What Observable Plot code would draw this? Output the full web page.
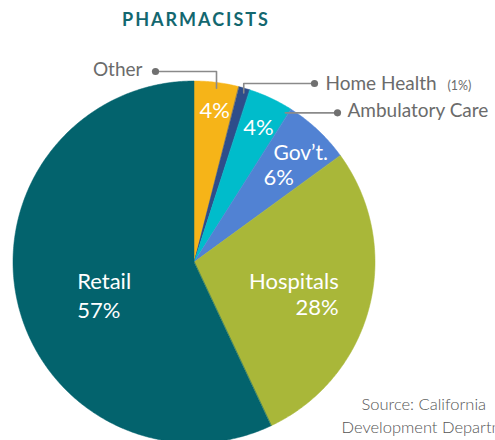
<!DOCTYPE html>
<html><head><meta charset="utf-8">
<script src="https://cdn.jsdelivr.net/npm/d3@7"></script>
<script src="https://cdn.jsdelivr.net/npm/@observablehq/plot@0.6"></script>
<style>
body{margin:0;background:#fff;width:495px;height:440px;overflow:hidden;}
#title{height:36px;box-sizing:border-box;padding:10px 0 0 122px;font:bold 18px/18px Lato,sans-serif;letter-spacing:2px;color:#13676f;}
#chart svg{display:block;}
</style></head><body>
<div id="title">PHARMACISTS</div>
<div id="chart"></div>
<script>
// ---- data ----
const categories = ["Other", "Home Health", "Ambulatory Care", "Gov\u2019t.", "Hospitals", "Retail"];
const shares = [4, 1, 4, 6, 28, 57];
const pctLabels = ["4%", "(1%)", "4%", "6%", "28%", "57%"];
const sourceLines = ["Source: California", "Development Department"];

// ---- styles / layout ----
const colors = ["#f6b418", "#2e4d8a", "#00bccb", "#5182d3", "#a9b739", "#03636d"];
const W = 495, H = 404, CX = 194, CY = 226, R = 181;
const X = px => (px - CX) / R;
const Y = py => (CY - (py - 36)) / R; // py in page coordinates

const rows = categories.map((c, i) => ({cat: c, share: shares[i], pct: pctLabels[i]}));
const arcs = d3.pie().sort(null).value(d => d.share)(rows);
const mid = a => (a.startAngle + a.endAngle) / 2;
const polar = (ang, r) => ({x: r * Math.sin(ang), y: r * Math.cos(ang)});

// slice outlines sampled along each arc
const slicePts = [];
for (const a of arcs) {
  const n = Math.max(4, Math.ceil((a.endAngle - a.startAngle) / 0.01));
  for (let k = 0; k <= n; k++) {
    const t = a.startAngle + (a.endAngle - a.startAngle) * k / n;
    slicePts.push({cat: a.data.cat, x1: Math.sin(t), y1: Math.cos(t), x2: 0, y2: 0});
  }
}
const arcOf = c => arcs.find(a => a.data.cat === c);

// inner labels: centroid at radius factor + pixel nudges
const inner = [];
function innerLabel(cat, r, text, anchor, dx, dy, size) {
  const p = polar(mid(arcOf(cat)), r);
  inner.push(Plot.text([p], {x: "x", y: "y", text: () => text, fill: "white", fontSize: size,
    textAnchor: anchor, dx, dy, fontFamily: "Lato"}));
}
innerLabel("Other", 0.85, rows[0].pct, "middle", 1, 1, 22);
innerLabel("Ambulatory Care", 0.85, rows[2].pct, "middle", -1.5, 5, 22);
innerLabel("Gov\u2019t.", 0.75, rows[3].cat, "start", -14, -10, 21);
innerLabel("Gov\u2019t.", 0.75, rows[3].pct, "start", -24, 14, 22);
innerLabel("Hospitals", 0.6, rows[4].cat, "end", 39, -8, 22);
innerLabel("Hospitals", 0.6, rows[4].pct, "end", 39, 18, 22);
innerLabel("Retail", 0.5, rows[5].cat, "start", -29, 0, 22);
innerLabel("Retail", 0.5, rows[5].pct, "start", -29, 29, 22);

// leader lines for outer labels
const leaders = [];
const dots = [];
function leader(cat, angle, r, labelY, dotX) {
  const p = polar(angle, r);
  const ly = labelY == null ? p.y : Y(labelY);
  leaders.push({cat, x: p.x, y: p.y}, {cat, x: p.x, y: ly}, {cat, x: X(dotX), y: ly});
  dots.push({cat, x: X(dotX), y: ly});
}
const aO = arcOf("Other"), aH = arcOf("Home Health"), aA = arcOf("Ambulatory Care");
leader("Other", mid(aO), 0.97, 71, 155);
leader("Home Health", mid(aH), 0.975, 83, 314);
leader("Ambulatory Care", aA.startAngle + 0.92 * (aA.endAngle - aA.startAngle), 0.967, null, 337);
const dotOf = c => dots.filter(d => d.cat === c);

const outerStyle = {x: "x", y: "y", fill: "#6b6b6b", fontSize: 19, fontFamily: "Lato"};

const chart = Plot.plot({
  width: W, height: H,
  margin: 0,
  x: {domain: [X(0), X(W)], axis: null},
  y: {domain: [Y(36 + H), Y(36)], axis: null},
  color: {domain: categories, range: colors},
  style: {fontFamily: "Lato", background: "white", overflow: "visible"},
  marks: [
    Plot.area(slicePts, {x1: "x1", y1: "y1", x2: "x2", y2: "y2", z: "cat", fill: "cat",
      stroke: "cat", strokeWidth: 0.5, curve: "linear"}),
    ...inner,
    Plot.line(leaders, {x: "x", y: "y", z: "cat", stroke: "#8a8a8a", strokeWidth: 1.6}),
    Plot.dot(dots, {x: "x", y: "y", r: 3.6, fill: "#707070"}),
    Plot.text(dotOf("Other"), {...outerStyle, text: "cat", textAnchor: "end", dx: -13, dy: -2}),
    Plot.text(dotOf("Home Health"), {...outerStyle, text: "cat", textAnchor: "start", dx: 11, dy: 0}),
    Plot.text(dotOf("Home Health"), {...outerStyle, text: () => rows[1].pct, fontSize: 12.5, textAnchor: "start", dx: 133, dy: 2}),
    Plot.text(dotOf("Ambulatory Care"), {...outerStyle, text: "cat", textAnchor: "start", dx: 10, dy: -2}),
    Plot.text([{x: X(361), y: Y(404)}], {x: "x", y: "y", text: () => sourceLines[0], textAnchor: "start",
      fill: "#555", fontSize: 16.5, fontFamily: "Lato", fontWeight: 300}),
    Plot.text([{x: X(341), y: Y(427)}], {x: "x", y: "y", text: () => sourceLines[1], textAnchor: "start",
      fill: "#555", fontSize: 16.5, fontFamily: "Lato", fontWeight: 300})
  ]
});
document.getElementById("chart").appendChild(chart);
</script>
</body></html>
